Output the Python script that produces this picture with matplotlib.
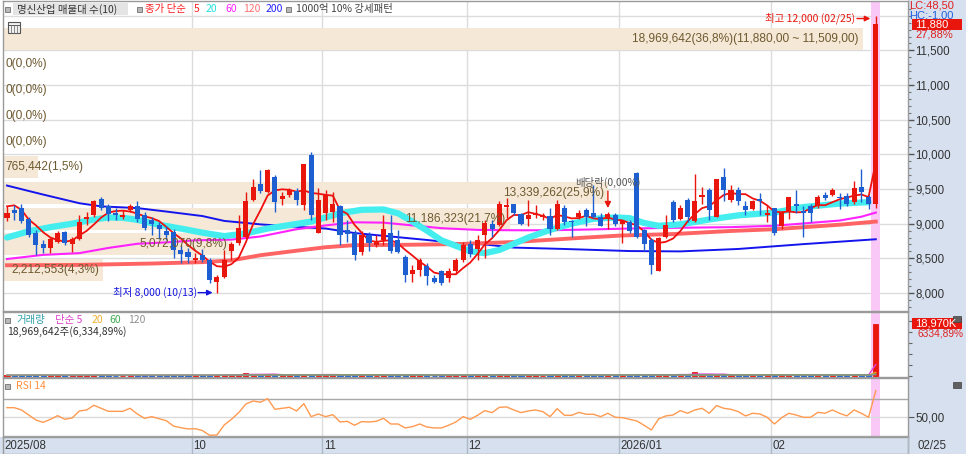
import matplotlib
matplotlib.use('Agg')
import matplotlib.pyplot as plt
import matplotlib.transforms as mtransforms
from matplotlib.patches import Rectangle
from matplotlib.lines import Line2D
from matplotlib.ticker import FixedLocator, FuncFormatter, NullFormatter
import numpy as np
import pandas as pd

plt.rcParams['font.family'] = ['Liberation Sans', 'DejaVu Sans']
KR = ['Noto Sans CJK KR', 'DejaVu Sans']

# ---------------- data ----------------
opens = [
    9080, 9200, 9220, 9070, 8860, 8700, 8650, 8730, 8880, 8700,
    8780, 9070, 9130, 9350, 9260, 9150, 9090, 9200, 9260, 9130,
    9050, 8980, 8900, 8880, 8620, 8590, 8480, 8550, 8480, 8160,
    8230, 8600, 8720, 8810, 9340, 9570, 9460, 9680, 9350, 9420,
    9470, 9270, 9990, 8860, 9150, 9170, 9250, 8910, 8860, 8590,
    8840, 8690, 8770, 8860, 8770, 8520, 8280, 8330, 8390, 8220,
    8310, 8210, 8320, 8480, 8700, 8640, 8830, 9000, 8980, 9240,
    9280, 9140, 9070, 9130, 9090, 9110, 8920, 9230, 9040, 9100,
    9200, 9160, 9100, 9070, 9130, 9000, 9030, 9730, 8910, 8770,
    8320, 8810, 9310, 9070, 9340, 9040, 9380, 9490, 9100, 9680,
    9340, 9480, 9260, 9210, 9360, 9120, 9220, 8960, 9180, 9290,
    9180, 9250, 9250, 9420, 9420, 9390, 9400, 9310, 9530, 9390,
    9280]
highs = [
    9250, 9270, 9280, 9100, 8910, 8770, 8810, 8890, 8900, 8810,
    9130, 9170, 9340, 9390, 9290, 9220, 9200, 9290, 9320, 9170,
    9100, 9030, 8960, 8930, 8690, 8650, 8570, 8640, 8500, 8260,
    8620, 8740, 9130, 9460, 9650, 9770, 9790, 9700, 9460, 9520,
    9520, 9860, 10030, 9510, 9490, 9460, 9270, 9050, 8910, 8890,
    8880, 8840, 9130, 9130, 8910, 8550, 8400, 8500, 8430, 8260,
    8330, 8360, 8500, 8740, 8770, 8840, 9050, 9050, 9320, 9370,
    9290, 9150, 9340, 9270, 9150, 9220, 9340, 9270, 9050, 9200,
    9220, 9560, 9150, 9170, 9150, 9050, 9050, 9740, 8930, 8790,
    8810, 9130, 9340, 9270, 9370, 9710, 9530, 9510, 9640, 9810,
    9560, 9530, 9320, 9340, 9440, 9270, 9230, 9180, 9390, 9490,
    9250, 9290, 9410, 9460, 9520, 9440, 9440, 9610, 9790, 9410,
    12000]
lows = [
    9040, 9050, 9010, 8810, 8550, 8570, 8570, 8720, 8690, 8590,
    8770, 8980, 9100, 9200, 9040, 9050, 9070, 9170, 9030, 8910,
    8840, 8780, 8770, 8500, 8430, 8430, 8430, 8450, 8150, 8000,
    8210, 8480, 8690, 8790, 9320, 9440, 9440, 9170, 9270, 9390,
    9270, 9200, 9050, 8860, 9050, 9030, 8690, 8740, 8480, 8550,
    8610, 8670, 8690, 8570, 8570, 8160, 8160, 8240, 8120, 8140,
    8120, 8160, 8280, 8450, 8520, 8480, 8500, 8810, 8960, 9080,
    9130, 8980, 8960, 9080, 9050, 8830, 8910, 8980, 8810, 9070,
    8960, 9080, 8960, 8930, 8960, 8720, 8860, 8790, 8600, 8280,
    8310, 8790, 9030, 9050, 9030, 9020, 9290, 9050, 9090, 9320,
    9310, 9270, 9130, 9200, 9130, 9020, 8830, 8930, 9070, 9150,
    8810, 9030, 9230, 9340, 9400, 9210, 9250, 9280, 9310, 9210,
    9230]
closes = [
    9150, 9160, 9040, 8840, 8690, 8650, 8780, 8860, 8720, 8780,
    9020, 9100, 9320, 9220, 9140, 9130, 9130, 9260, 9070, 8940,
    9000, 8920, 8840, 8620, 8560, 8520, 8510, 8480, 8190, 8230,
    8480, 8700, 8940, 9320, 9530, 9470, 9770, 9310, 9400, 9490,
    9340, 9860, 9130, 9340, 9410, 9280, 8830, 8850, 8550, 8830,
    8720, 8740, 8920, 8600, 8590, 8260, 8330, 8480, 8240, 8160,
    8150, 8320, 8480, 8690, 8560, 8770, 9010, 8920, 9280, 9270,
    9150, 9000, 9130, 9160, 9120, 8930, 9290, 9020, 9020, 9150,
    9090, 9100, 8970, 9140, 8990, 9040, 8900, 8810, 8700, 8400,
    8800, 8980, 9050, 9230, 9100, 9330, 9410, 9200, 9640, 9490,
    9480, 9320, 9200, 9330, 9320, 9150, 8860, 9170, 9380, 9260,
    9160, 9150, 9390, 9370, 9480, 9370, 9280, 9520, 9460, 9290,
    11880]
volumes = [
    250000, 230000, 260000, 300000, 320000, 220000, 240000, 230000, 210000, 200000,
    330000, 200000, 380000, 300000, 260000, 180000, 170000, 220000, 300000, 260000,
    200000, 210000, 230000, 350000, 280000, 220000, 200000, 210000, 380000, 420000,
    400000, 250000, 500000, 1150000, 600000, 450000, 420000, 650000, 250000, 220000,
    300000, 600000, 750000, 550000, 400000, 300000, 450000, 230000, 330000, 300000,
    200000, 180000, 300000, 350000, 250000, 330000, 200000, 240000, 250000, 170000,
    190000, 200000, 260000, 330000, 220000, 260000, 520000, 250000, 600000, 300000,
    240000, 230000, 330000, 200000, 170000, 280000, 480000, 300000, 250000, 200000,
    220000, 330000, 240000, 250000, 230000, 200000, 220000, 700000, 330000, 450000,
    480000, 350000, 450000, 900000, 400000, 1400000, 350000, 450000, 600000, 550000,
    300000, 300000, 220000, 250000, 250000, 220000, 420000, 350000, 380000, 300000,
    330000, 250000, 280000, 220000, 260000, 220000, 260000, 600000, 700000, 299447,
    18969642]
rsi = [
    60.5, 60.5, 58.0, 52.5, 47.0, 44.5, 47.8, 51.8, 47.8, 49.3,
    56.9, 58.0, 63.1, 59.8, 56.5, 56.5, 56.5, 59.8, 53.6, 48.9,
    50.7, 48.5, 46.3, 40.5, 38.7, 37.3, 37.6, 35.5, 30.4, 30.7,
    41.6, 47.8, 55.1, 64.5, 67.8, 66.4, 70.4, 58.7, 59.8, 60.9,
    56.9, 64.9, 50.7, 53.6, 50.7, 52.9, 44.9, 45.6, 41.3, 45.3,
    44.9, 45.6, 48.9, 42.7, 42.7, 38.4, 39.8, 42.7, 39.4, 38.4,
    38.4, 41.3, 44.9, 50.7, 47.8, 52.2, 57.3, 55.1, 60.9, 61.3,
    58.0, 55.1, 56.9, 58.0, 56.2, 50.7, 59.4, 52.2, 52.2, 55.4,
    53.3, 53.3, 50.7, 54.4, 50.0, 49.6, 47.8, 46.0, 41.3, 36.2,
    48.2, 51.5, 52.5, 57.3, 54.4, 58.0, 59.8, 54.4, 62.8, 59.8,
    58.7, 56.2, 51.5, 54.4, 53.6, 50.0, 42.7, 49.6, 54.4, 52.5,
    50.0, 50.0, 55.4, 54.4, 58.0, 54.4, 51.5, 58.0, 54.4, 50.0,
    79.0]

# moving-average lines (index, value)
ma5_head = [9250, 9265, 9200, 9060]
ma20_x = [0, 3, 6, 9, 12, 14, 16, 18, 21, 24, 27, 30, 33, 36, 39, 42, 44, 46, 49, 52,
          54, 56, 58, 60, 62, 64, 66, 68, 70, 72, 75, 78, 81, 84, 86, 88, 90, 93, 97,
          101, 106, 110, 115, 119]
ma20_v = [8800, 8890, 8950, 9000, 9060, 9090, 9085, 9055, 8985, 8930, 8870, 8820, 8860,
          8930, 8980, 9030, 9090, 9150, 9200, 9205, 9150, 9030, 8900, 8760, 8680, 8600,
          8575, 8620, 8710, 8800, 8910, 9000, 9070, 9090, 9080, 9010, 8970, 8990, 9060,
          9120, 9160, 9240, 9290, 9310]
ma60_x = [0, 5, 10, 14, 18, 22, 26, 31, 35, 40, 44, 48, 52, 56, 60, 65, 70, 75, 80, 86,
          92, 100, 106, 112, 115, 118, 120]
ma60_v = [8490, 8550, 8575, 8650, 8710, 8730, 8760, 8770, 8815, 8920, 8975, 9020, 9015,
          8975, 8935, 8910, 8905, 8905, 8915, 8930, 8940, 8950, 8970, 9020, 9045, 9100, 9160]
ma120_x = [0, 10, 20, 27, 31, 35, 40, 44, 48, 55, 62, 70, 80, 85, 92, 100, 106, 115, 120]
ma120_v = [8400, 8405, 8425, 8445, 8470, 8545, 8610, 8660, 8690, 8695, 8705, 8735, 8800,
           8830, 8850, 8895, 8920, 8985, 9030]
ma200_x = [0, 5, 10, 13, 18, 22, 27, 30, 35, 40, 44, 48, 53, 58, 62, 66, 70, 77, 86, 93,
           101, 110, 120]
ma200_v = [9550, 9420, 9295, 9250, 9225, 9175, 9110, 9040, 8990, 8955, 8930, 8865, 8815,
           8765, 8720, 8700, 8655, 8635, 8605, 8600, 8635, 8705, 8775]

# volume profile (매물대) bins
vp_hi = [11880, 11509, 11138, 10767, 10396, 10025, 9654, 9283, 8912, 8541]
vp_lo = [11509, 11138, 10767, 10396, 10025, 9654, 9283, 8912, 8541, 8170]
vp_vol = [18969642, 0, 0, 0, 0, 765442, 13339262, 11186323, 5072070, 2212553]
vp_pct = [36.8, 0.0, 0.0, 0.0, 0.0, 1.5, 25.9, 21.7, 9.8, 4.3]

month_idx = [26, 44, 64, 85, 106]
month_lbl = ['10', '11', '12', '2026/01', '02']
first_lbl = '2025/08'
last_lbl = '02/25'
div_idx = 83
div_lbl = '배당락(0,00%)'
price_ticks = [8000, 8500, 9000, 9500, 10000, 10500, 11000, 11500]
lc_text = 'LC:48,50'
hc_text = 'HC:-1,00'

# ---------------- styling ----------------
RED = '#E8160C'
BLUE = '#1D5FD1'
GRID = '#DCDCDC'
BAND = '#F5E8D6'
BANDTXT = '#6E5A30'
PANEL = '#D6E0EE'
SPINE = '#9A9A9A'
PINK = '#F9C8F6'

W, H = 966, 454
fig = plt.figure(figsize=(W / 100, H / 100), dpi=100)
fig.patch.set_facecolor('white')


def fr(x0, y0, x1, y1):
    return [x0 / W, 1 - y1 / H, (x1 - x0) / W, (y1 - y0) / H]


def prect(x0, y0, x1, y1, **kw):
    fig.add_artist(Rectangle((x0 / W, 1 - y1 / H), (x1 - x0) / W, (y1 - y0) / H,
                             transform=fig.transFigure, **kw))


def ptext(x, y, s, **kw):
    kw.setdefault('va', 'center')
    fig.text(x / W, 1 - y / H, s, **kw)


def pline(xs, ys, **kw):
    fig.add_artist(Line2D([x / W for x in xs], [1 - y / H for y in ys],
                          transform=fig.transFigure, **kw))


# panel backgrounds
prect(908, 0, W, H, fc=PANEL, ec='none', zorder=-5)
prect(0, 437, W, H, fc=PANEL, ec='none', zorder=-5)

ax_p = fig.add_axes(fr(3, 1, 908, 311))
ax_v = fig.add_axes(fr(3, 312, 908, 377), sharex=ax_p)
ax_r = fig.add_axes(fr(3, 378, 908, 437), sharex=ax_p)
ax_x = fig.add_axes(fr(3, 437, 908, 454), sharex=ax_p)

n = len(closes)
idx = np.arange(n)
o = np.array(opens, float)
c = np.array(closes, float)
h = np.array(highs, float)
l = np.array(lows, float)
up = c >= o
col = np.where(up, RED, BLUE)
last = n - 1

for ax in (ax_p, ax_v, ax_r, ax_x):
    ax.set_xlim(-0.552, 124.45)
    ax.tick_params(axis='x', bottom=False, labelbottom=False, top=False)
    for s in ax.spines.values():
        s.set_color(SPINE)
        s.set_linewidth(1)
    for m in month_idx:
        ax.axvline(m - 0.5, color=GRID if ax is not ax_x else '#AEB9C8', lw=1, zorder=0.2)
for ax in (ax_p, ax_v, ax_r):
    ax.axvspan(last - 0.6, last + 0.65, color=PINK, lw=0, zorder=0.3)

# ---------------- price panel ----------------
ax_p.set_ylim(7740, 12213)
for v in range(8000, 12001, 500):
    ax_p.axhline(v, color=GRID, lw=1, zorder=0.2)

trans = mtransforms.blended_transform_factory(ax_p.transAxes, ax_p.transData)
frac_per_pct = 0.9503 / max(vp_pct)
for k, (hi_, lo_, vv, pc) in enumerate(zip(vp_hi, vp_lo, vp_vol, vp_pct)):
    wfrac = pc * frac_per_pct
    if wfrac > 0:
        ax_p.add_patch(Rectangle((0, lo_), wfrac, (hi_ - lo_) * 0.86, transform=trans,
                                 fc=BAND, ec='none', zorder=0.5))
    lbl = f"{vv:,}({pc:.1f}%)".replace('.', ',')
    if k == 0:
        lbl += f"({hi_:,.2f} ~ {lo_:,.2f})".replace('.', ',')
    yl = lo_ + 0.43 * (hi_ - lo_)
    if pc >= 2:
        ax_p.text(wfrac - 0.005, yl, lbl, transform=trans, ha='right', va='center',
                  fontsize=8.6, color=BANDTXT, zorder=6)
    else:
        ax_p.text(0.003, yl, lbl, transform=trans, ha='left', va='center',
                  fontsize=8.6, color=BANDTXT, zorder=6)

# moving averages
ma5 = pd.Series(closes, dtype=float).rolling(5).mean().to_numpy()
ma5[:4] = ma5_head
ax_p.plot(ma200_x, ma200_v, color='#1414EE', lw=1.4, zorder=2.5)
ax_p.plot(ma120_x, ma120_v, color='#FF6464', lw=2.8, zorder=2.6)
ax_p.plot(ma60_x, ma60_v, color='#FF22FF', lw=1.5, zorder=2.7)
ax_p.plot(ma20_x, ma20_v, color='#44EEEE', lw=4.5, zorder=2.8, solid_capstyle='round')
ax_p.plot(idx, ma5, color='#F01010', lw=1.3, zorder=2.9)

# candles
ax_p.vlines(idx, l, h, colors=col, lw=1, zorder=4)
body_lo = np.minimum(o, c)
body_h = np.maximum(np.abs(c - o), 12)
ax_p.bar(idx, body_h, bottom=body_lo, width=0.7, color=col, lw=0, zorder=5)

# right price axis
ax_p.yaxis.tick_right()
ax_p.yaxis.set_major_locator(FixedLocator(price_ticks))
ax_p.yaxis.set_major_formatter(FuncFormatter(lambda v, p: f"{int(v):,}"))
ax_p.yaxis.set_minor_locator(FixedLocator(np.arange(7800, 12200, 100)))
ax_p.yaxis.set_minor_formatter(NullFormatter())
ax_p.tick_params(axis='y', which='major', direction='out', length=4, width=1, color='#555555',
                 labelsize=8.3, labelcolor='#333333', pad=1.5)
ax_p.tick_params(axis='y', which='minor', direction='out', length=2, width=0.8, color='#777777')

# high / low annotations
hi_i = int(np.argmax(h))
lo_i = int(np.argmin(l))
ax_p.annotate('', xy=(hi_i - 0.75, h[hi_i] - 40), xytext=(hi_i - 2.6, h[hi_i] - 40),
              arrowprops=dict(arrowstyle='-|>', color=RED, lw=1, mutation_scale=8,
                              shrinkA=0, shrinkB=0), zorder=7)
ax_p.text(hi_i - 2.8, h[hi_i] - 40, f"최고 {int(h[hi_i]):,} (02/25)", ha='right', va='center',
          color=RED, fontsize=7.5, family=KR, zorder=7)
ax_p.annotate('', xy=(lo_i - 0.6, l[lo_i] + 5), xytext=(lo_i - 2.6, l[lo_i] + 5),
              arrowprops=dict(arrowstyle='-|>', color='#1515E0', lw=1, mutation_scale=8,
                              shrinkA=0, shrinkB=0), zorder=7)
ax_p.text(lo_i - 2.8, l[lo_i] + 5, f"최저 {int(l[lo_i]):,} (10/13)", ha='right', va='center',
          color='#1515E0', fontsize=7.5, family=KR, zorder=7)

# dividend marker
ax_p.annotate('', xy=(div_idx, 9225), xytext=(div_idx, 9470),
              arrowprops=dict(arrowstyle='-|>', color=RED, lw=1, mutation_scale=9,
                              shrinkA=0, shrinkB=0), zorder=7)
ax_p.text(div_idx, 9590, div_lbl, ha='center', va='center', color='#555555',
          fontsize=7.5, family=KR, zorder=7)

# ---------------- volume panel ----------------
vol = np.array(volumes, float)
ax_v.set_ylim(-0.365e6, 23.35e6)
ax_v.bar(idx, vol, width=0.7, color=col, edgecolor=col, lw=0.6, zorder=3)
vs = pd.Series(vol)
for nper, cc in ((5, '#E040E0'), (20, '#F0B030'), (60, '#40A050'), (120, '#909090')):
    ax_v.plot(idx, vs.rolling(nper, min_periods=1).mean(), color=cc, lw=1, zorder=4)
ax_v.yaxis.tick_right()
ax_v.yaxis.set_major_locator(FixedLocator([0, 4e6, 8e6, 12e6, 16e6, 20e6]))
ax_v.yaxis.set_major_formatter(NullFormatter())
ax_v.tick_params(axis='y', direction='out', length=3, color='#666666')

# ---------------- RSI panel ----------------
ax_r.set_ylim(28.53, 92.83)
ax_r.axhline(70, color='#A8A8A8', lw=1, zorder=0.4)
ax_r.axhline(30, color='#A8A8A8', lw=1, zorder=0.4)
ax_r.axhline(50, color='#DADADA', lw=1, zorder=0.4)
ax_r.plot(idx, rsi, color='#FF9A50', lw=1, zorder=3)
ax_r.yaxis.tick_right()
ax_r.yaxis.set_major_locator(FixedLocator([50]))
ax_r.yaxis.set_major_formatter(FuncFormatter(lambda v, p: '50,00'))
ax_r.tick_params(axis='y', direction='out', length=4, color='#555555', labelsize=8.3,
                 labelcolor='#333333', pad=1.5)

# ---------------- x strip ----------------
ax_x.set_facecolor(PANEL)
ax_x.set_ylim(0, 1)
ax_x.set_yticks([])
xt = mtransforms.blended_transform_factory(ax_x.transData, ax_x.transAxes)
ax_x.text(-0.3, 0.45, first_lbl, transform=xt, ha='left', va='center', fontsize=8.3, color='#333333')
for m, lb in zip(month_idx, month_lbl):
    ax_x.text(m - 0.25, 0.45, lb, transform=xt, ha='left', va='center', fontsize=8.3, color='#333333')
ptext(917, 446, last_lbl, fontsize=8.3, color='#333333')
pline([908, 908], [437, 454], color='#AEB9C8', lw=1)

# ---------------- headers ----------------
def icon(x, y):
    prect(x, y - 2.5, x + 5, y + 2.5, fc='#B8B8B8', ec='#707070', lw=0.6, zorder=20)

icon(5, 9)
prect(13, 3, 128, 15, fc='#E4E4E4', ec='none', zorder=19)
ptext(17, 9, '명신산업 매물대 수(10)', fontsize=7.5, family=KR, color='#333333', zorder=21)
icon(137, 9)
ptext(145, 9, '종가 단순', fontsize=7.5, family=KR, color='#FF2020', zorder=21)
ptext(194, 9, '5', fontsize=7.5, family=KR, color='#FF2020', zorder=21)
ptext(206, 9, '20', fontsize=7.5, family=KR, color='#22E0E0', zorder=21)
ptext(225, 9, '60', fontsize=7.5, family=KR, color='#FF22FF', zorder=21)
ptext(243, 9, '120', fontsize=7.5, family=KR, color='#FF7070', zorder=21)
ptext(266, 9, '200', fontsize=7.5, family=KR, color='#2020FF', zorder=21)
icon(286, 9)
ptext(296, 9, '1000억 10% 강세패턴', fontsize=7.5, family=KR, color='#444444', zorder=21)

# table icon
prect(8, 22, 20, 33, fc='#F2F2F2', ec='#555555', lw=0.8, zorder=20)
pline([8, 20], [25, 25], color='#555555', lw=0.7, zorder=21)
for xx in (11, 14, 17):
    pline([xx, xx], [25, 33], color='#777777', lw=0.6, zorder=21)

# volume header
icon(5, 320)
ptext(16, 320, '거래량', fontsize=7.5, family=KR, color='#30A0A8', zorder=21)
ptext(55, 320, '단순 5', fontsize=7.5, family=KR, color='#E040C8', zorder=21)
ptext(92, 320, '20', fontsize=7.5, family=KR, color='#F0B030', zorder=21)
ptext(109, 320, '60', fontsize=7.5, family=KR, color='#40A850', zorder=21)
ptext(128, 320, '120', fontsize=7.5, family=KR, color='#909090', zorder=21)
ratio = vol[-1] / vol[-2] * 100
ptext(7, 332, f"{int(vol[-1]):,}주({ratio:,.2f}%)".replace('.', ','),
      fontsize=7.5, family=KR, color='#333333', zorder=21)

# RSI header
icon(5, 386)
ptext(16, 386, 'RSI 14', fontsize=7.5, family=KR, color='#FF9040', zorder=21)

# right-side value boxes
chg = (c[-1] / c[-2] - 1) * 100
ptext(909, 6, lc_text, fontsize=8, color='#E02020', zorder=21)
ptext(909, 15, hc_text, fontsize=8, color='#2060E0', zorder=21)
prect(912, 19, 962, 29.5, fc='#E8160C', ec='none', zorder=22)
ptext(915, 24.5, f"{int(c[-1]):,}", fontsize=8, color='white', zorder=23)
ptext(915, 34.5, f"{chg:.2f}%".replace('.', ','), fontsize=8, color='#E02020', zorder=21)

prect(912, 318, 962, 329, fc='#E8160C', ec='none', zorder=22)
ptext(915, 323.5, f"{vol[-1] / 1000:,.0f}K", fontsize=8, color='white', zorder=23)
ptext(917, 334, f"{ratio:.2f}%".replace('.', ','), fontsize=7.3, color='#E02020', zorder=21)

for yy in (316, 382):
    prect(953, yy, 961, yy + 6, fc='#606060', ec='#404040', lw=0.5, zorder=22)

fig.savefig('out.png', dpi=100)
